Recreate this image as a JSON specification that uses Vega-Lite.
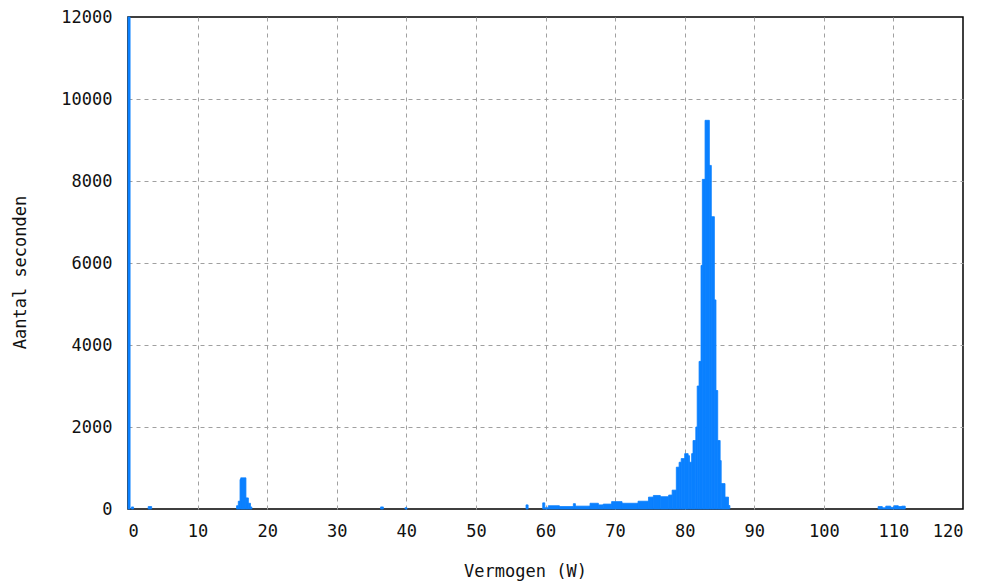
{
  "$schema": "https://vega.github.io/schema/vega-lite/v6.json",
  "width": 835,
  "height": 492,
  "autosize": {"type": "none"},
  "padding": {"left": 128, "top": 17, "right": 22, "bottom": 76},
  "background": "white",
  "config": {
    "view": {"stroke": "#000000", "strokeWidth": 1.5},
    "axis": {
      "labelFont": "DejaVu Sans Mono",
      "labelFontSize": 17,
      "labelColor": "#111111",
      "titleFont": "DejaVu Sans Mono",
      "titleFontSize": 17,
      "titleFontWeight": "normal",
      "titleColor": "#111111",
      "grid": true,
      "gridColor": "#a0a0a0",
      "gridDash": [4, 4],
      "gridWidth": 1,
      "domain": false,
      "ticks": false
    }
  },
  "data": {
    "values": [
      {"van": 0, "tot": 0.3, "n": 12000},
      {"van": 0.5, "tot": 0.8, "n": 50},
      {"van": 2.9, "tot": 3.4, "n": 60},
      {"van": 15.6, "tot": 15.85, "n": 80},
      {"van": 15.85, "tot": 16.1, "n": 190},
      {"van": 16.1, "tot": 16.2, "n": 720},
      {"van": 16.2, "tot": 16.95, "n": 760},
      {"van": 16.95, "tot": 17.3, "n": 270},
      {"van": 17.3, "tot": 17.6, "n": 140},
      {"van": 17.6, "tot": 17.8, "n": 50},
      {"van": 36.3, "tot": 36.7, "n": 50},
      {"van": 39.8, "tot": 40.1, "n": 30},
      {"van": 57.2, "tot": 57.5, "n": 100},
      {"van": 59.6, "tot": 59.9, "n": 150},
      {"van": 59.9, "tot": 60.4, "n": 30},
      {"van": 60.4, "tot": 62.0, "n": 80},
      {"van": 62.0, "tot": 64.0, "n": 60},
      {"van": 64.0, "tot": 64.3, "n": 130},
      {"van": 64.3, "tot": 66.4, "n": 70},
      {"van": 66.4, "tot": 67.6, "n": 140},
      {"van": 67.6, "tot": 68.3, "n": 100},
      {"van": 68.3, "tot": 69.5, "n": 120},
      {"van": 69.5, "tot": 71.0, "n": 180},
      {"van": 71.0, "tot": 73.3, "n": 140},
      {"van": 73.3, "tot": 74.8, "n": 190},
      {"van": 74.8, "tot": 75.5, "n": 290},
      {"van": 75.5, "tot": 76.5, "n": 330},
      {"van": 76.5, "tot": 77.7, "n": 300},
      {"van": 77.7, "tot": 78.2, "n": 340},
      {"van": 78.2, "tot": 78.8, "n": 460},
      {"van": 78.8, "tot": 79.2, "n": 1020},
      {"van": 79.2, "tot": 79.5, "n": 1140},
      {"van": 79.5, "tot": 80.0, "n": 1230},
      {"van": 80.0, "tot": 80.5, "n": 1350},
      {"van": 80.5, "tot": 80.7, "n": 1300},
      {"van": 80.7, "tot": 81.0, "n": 1140},
      {"van": 81.0, "tot": 81.2, "n": 1350},
      {"van": 81.2, "tot": 81.6, "n": 1670},
      {"van": 81.6, "tot": 81.8, "n": 2000},
      {"van": 81.8, "tot": 82.07, "n": 3000},
      {"van": 82.07, "tot": 82.35, "n": 3600},
      {"van": 82.35, "tot": 82.54, "n": 5940},
      {"van": 82.54, "tot": 82.93, "n": 8040},
      {"van": 82.93, "tot": 83.55, "n": 9480},
      {"van": 83.55, "tot": 83.83, "n": 8380},
      {"van": 83.83, "tot": 84.27, "n": 7130},
      {"van": 84.27, "tot": 84.5, "n": 5100},
      {"van": 84.5, "tot": 84.75, "n": 2890},
      {"van": 84.75, "tot": 85.1, "n": 1670},
      {"van": 85.1, "tot": 85.25, "n": 1180},
      {"van": 85.25, "tot": 85.8, "n": 620},
      {"van": 85.8, "tot": 86.3, "n": 290},
      {"van": 86.3, "tot": 86.5, "n": 85},
      {"van": 107.8, "tot": 108.4, "n": 60},
      {"van": 108.4, "tot": 108.9, "n": 30},
      {"van": 108.9, "tot": 109.6, "n": 70},
      {"van": 109.6, "tot": 110.1, "n": 40},
      {"van": 110.1, "tot": 110.7, "n": 80},
      {"van": 110.7, "tot": 111.2, "n": 60},
      {"van": 111.2, "tot": 111.7, "n": 70}
    ]
  },
  "mark": {"type": "rect", "fill": "#0a80ff", "stroke": "#0a80ff", "strokeWidth": 0.8, "strokeOpacity": 1, "fillOpacity": 1},
  "encoding": {
    "x": {
      "field": "van",
      "type": "quantitative",
      "scale": {"domain": [0, 120], "nice": false, "zero": false},
      "axis": {
        "values": [0, 10, 20, 30, 40, 50, 60, 70, 80, 90, 100, 110, 120],
        "format": "d",
        "title": "Vermogen (W)",
        "labelPadding": 14,
        "titleX": 397,
        "titleY": 54,
        "titleBaseline": "top",
        "titleAlign": "center",
        "gridOpacity": {"condition": {"test": "datum.value === 0 || datum.value === 120", "value": 0}, "value": 1}
      }
    },
    "x2": {"field": "tot"},
    "y": {
      "field": "n",
      "type": "quantitative",
      "scale": {"domain": [0, 12000], "nice": false},
      "axis": {
        "values": [0, 2000, 4000, 6000, 8000, 10000, 12000],
        "format": "d",
        "title": "Aantal seconden",
        "labelPadding": 16,
        "titleX": -108,
        "titleY": 255,
        "titleAngle": 270,
        "titleBaseline": "middle",
        "titleAlign": "center",
        "gridOpacity": {"condition": {"test": "datum.value === 0 || datum.value === 12000", "value": 0}, "value": 1}
      }
    },
    "y2": {"datum": 0}
  }
}
